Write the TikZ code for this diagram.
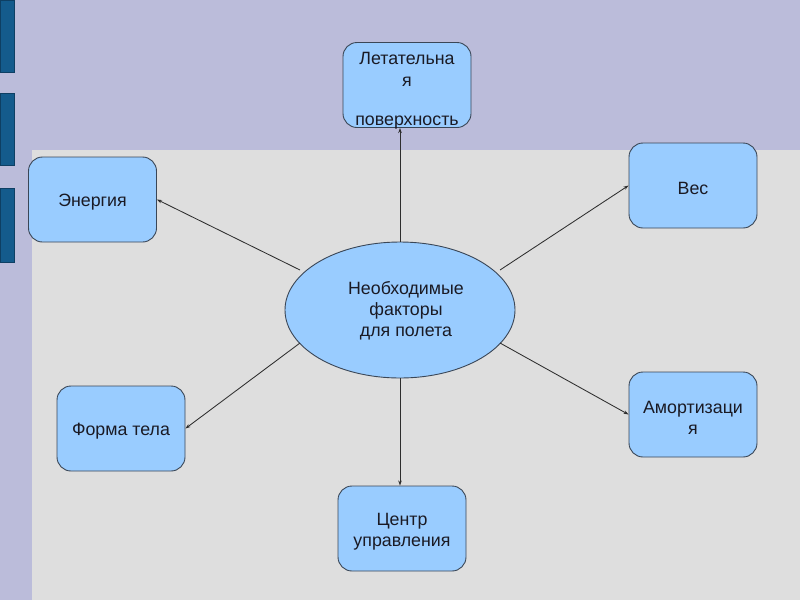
\documentclass[tikz,border=0pt]{standalone}
\usepackage{fontspec}
\setmainfont{Liberation Sans}
\usetikzlibrary{shapes.geometric,arrows.meta}
\definecolor{lav}{HTML}{BBBCDA}
\definecolor{pane}{HTML}{DEDEDE}
\definecolor{bar}{HTML}{145B8C}
\definecolor{barline}{HTML}{0E3F63}
\definecolor{boxfill}{HTML}{99CCFF}
\definecolor{boxline}{HTML}{3A4656}
\definecolor{txt}{HTML}{1A1A24}
\definecolor{arr}{HTML}{2E2E2E}
\tikzset{
  captext/.style={text=txt, font=\fontsize{17.8}{21}\selectfont, align=center, inner sep=0pt},
  factor/.style={draw=boxline, line width=0.9pt, fill=boxfill, rounded corners=14pt,
    minimum width=128pt, minimum height=85pt, inner sep=0pt,
    label={[captext, yshift=-3pt]center:{#1}}},
  hub/.style={ellipse, draw=boxline, line width=0.9pt, fill=boxfill,
    minimum width=230pt, minimum height=136pt, inner sep=0pt},
  link/.style={draw=arr, line width=0.85pt, -{Stealth[length=5pt,width=3.5pt]}},
  sidebar/.style={fill=bar, draw=barline, line width=0.6pt}
}
\begin{document}
\begin{tikzpicture}[x=1pt,y=-1pt]
\useasboundingbox (0,0) rectangle (800,600);
\fill[lav] (0,0) rectangle (800,600);
\fill[pane] (32,150) rectangle (800,600);
\draw[sidebar] (0,0) rectangle (14,72);
\draw[sidebar] (0,93) rectangle (14,165);
\draw[sidebar] (0,188) rectangle (14,262);

\node[hub] (hub) at (400,310) {};
\node[captext] (hubtext) at (406,311) {Необходимые\\факторы\\для полета};
\node[factor={}] (wing) at (407,85) {};
\node[captext, font=\fontsize{17.8}{22}\selectfont] (wingtext) at (407,91) {Летательна\\я\\[17pt]поверхность};
\node[factor={Энергия}] (energy) at (92.5,199.5) {};
\node[factor={Вес}] (weight) at (693,185.5) {};
\node[factor={Форма тела}] (shape) at (121,428.5) {};
\node[factor={Центр\\управления}] (center) at (402,528.5) {};
\node[factor={Амортизаци\\я}] (shock) at (693,414.5) {};

\coordinate (hn) at (400,242);
\coordinate (hs) at (400,378);
\coordinate (hnw) at (300,270);
\coordinate (hne) at (500,270);
\coordinate (hsw) at (300,343);
\coordinate (hse) at (500,343);

\draw[link] (hn) -- (hn |- wing.south);
\draw[link] (hs) -- (hs |- center.north);
\draw[link] (hnw) -- (energy.east);
\draw[link] (hne) -- (weight.west);
\draw[link] (hsw) -- (shape.east);
\draw[link] (hse) -- (shock.west);
\end{tikzpicture}
\end{document}
